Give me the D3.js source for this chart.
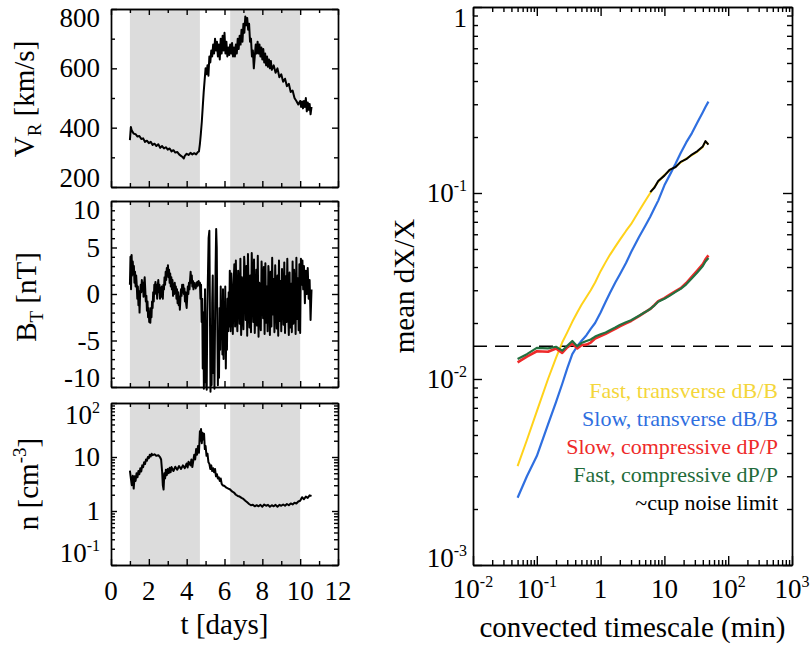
<!DOCTYPE html>
<html><head><meta charset="utf-8">
<script src="https://cdn.jsdelivr.net/npm/d3@7"></script>
<style>body{margin:0;background:#fff} svg{display:block} text{font-family:"Liberation Serif","Times New Roman",serif;fill:#000}</style>
</head><body><svg id="c" width="812" height="645"></svg>
<script>
// ---------------- DATA ----------------
const shadeStart = [1.0, 6.3];
const shadeEnd = [4.7, 10.0];

// V_R [km/s]
const vrDays = [1.00,1.05,1.10,1.15,1.2,1.3,1.4,1.5,1.6,1.7,1.8,1.9,2.0,2.1,2.2,2.3,2.4,2.5,2.6,2.7,2.8,2.9,3.0,3.1,3.2,3.3,3.4,3.5,3.6,3.7,3.8,3.85,3.9,4.0,4.1,4.2,4.3,4.4,4.5,4.6,4.65,4.7,4.75,4.8,4.85,4.9,4.95,5.0,5.05,5.1,5.15,5.2,5.25,5.3,5.35,5.4,5.45,5.5,5.55,5.6,5.65,5.7,5.75,5.8,5.85,5.9,5.95,6.0,6.05,6.1,6.15,6.2,6.25,6.3,6.35,6.4,6.45,6.5,6.55,6.6,6.65,6.7,6.75,6.8,6.85,6.9,6.95,7.0,7.05,7.1,7.15,7.2,7.25,7.3,7.35,7.4,7.45,7.5,7.55,7.6,7.65,7.7,7.75,7.8,7.85,7.9,7.95,8.0,8.05,8.1,8.15,8.2,8.25,8.3,8.35,8.4,8.45,8.5,8.6,8.7,8.8,8.9,9.0,9.1,9.2,9.3,9.4,9.5,9.6,9.7,9.8,9.9,10.0,10.05,10.1,10.15,10.2,10.25,10.3,10.35,10.4,10.45,10.5,10.55,10.6];
const vrVals = [358,402,390,385,380,378,370,372,362,364,352,356,348,352,342,346,338,344,332,338,330,334,326,330,320,324,316,318,310,305,300,296,305,312,308,315,310,314,310,318,320,345,380,420,470,520,560,600,580,610,575,640,620,660,640,680,650,700,660,690,640,680,630,700,650,710,660,720,650,690,640,670,645,680,650,685,640,670,640,680,650,700,665,710,680,730,690,750,720,775,745,770,730,750,690,700,640,660,600,640,680,650,690,650,680,640,670,630,665,620,650,610,640,605,630,600,625,595,610,585,600,570,580,555,565,540,548,520,525,500,490,478,490,470,488,465,490,470,500,455,485,460,480,445,470];

// B_T [nT]
const btDays = [1.00,1.03,1.06,1.09,1.12,1.15,1.18,1.21,1.24,1.27,1.30,1.33,1.36,1.39,1.42,1.45,1.48,1.51,1.54,1.57,1.60,1.63,1.66,1.69,1.72,1.75,1.78,1.81,1.84,1.87,1.90,1.93,1.96,1.99,2.02,2.05,2.08,2.11,2.14,2.17,2.20,2.23,2.26,2.29,2.32,2.35,2.38,2.41,2.44,2.47,2.50,2.53,2.56,2.59,2.62,2.65,2.68,2.71,2.74,2.77,2.80,2.83,2.86,2.89,2.92,2.95,2.98,3.01,3.04,3.07,3.10,3.13,3.16,3.19,3.22,3.25,3.28,3.31,3.34,3.37,3.40,3.43,3.46,3.49,3.52,3.55,3.58,3.61,3.64,3.67,3.70,3.73,3.76,3.79,3.82,3.85,3.88,3.91,3.94,3.97,4.00,4.03,4.06,4.09,4.12,4.15,4.18,4.21,4.24,4.27,4.30,4.33,4.36,4.39,4.42,4.45,4.48,4.51,4.54,4.57,4.60,4.63,4.66,4.70,
4.73,4.76,4.79,4.82,4.85,4.88,4.91,4.94,4.97,5.00,5.03,5.06,5.09,5.12,5.16,5.20,5.23,5.26,5.29,5.32,5.35,5.38,5.41,5.44,5.47,5.50,5.53,5.56,5.59,5.62,5.65,5.68,5.71,5.74,5.77,5.80,5.83,5.86,5.89,5.92,5.95,5.98,6.01,6.04,6.07,6.10,6.13,6.16,6.19,6.22,6.25,6.28,
6.32,6.36,6.40,6.44,6.48,6.52,6.56,6.60,6.64,6.68,6.72,6.76,6.80,6.84,6.88,6.92,6.96,7.00,7.04,7.08,7.12,7.16,7.20,7.24,7.28,7.32,7.36,7.40,7.44,7.48,7.52,7.56,7.60,7.64,7.68,7.72,7.76,7.80,7.84,7.88,7.92,7.96,8.00,8.04,8.08,8.12,8.16,8.20,8.24,8.28,8.32,8.36,8.40,8.44,8.48,8.52,8.56,8.60,8.64,8.68,8.72,8.76,8.80,8.84,8.88,8.92,8.96,9.00,9.04,9.08,9.12,9.16,9.20,9.24,9.28,9.32,9.36,9.40,9.44,9.48,9.52,9.56,9.60,9.64,9.68,9.72,9.76,9.80,9.84,9.88,9.92,9.96,10.00,
10.04,10.08,10.12,10.16,10.20,10.25,10.30,10.35,10.40,10.45,10.50,10.55,10.60];
const btVals = [1.0,4.0,0.5,4.2,2.0,3.5,2.2,3.0,1.2,2.4,0.8,2.0,1.0,-0.5,0.8,-1.2,0.3,-2.0,0.0,1.0,0.2,1.5,0.5,1.2,-0.3,1.0,1.8,0.5,-0.8,-0.2,-1.8,-0.8,-2.5,-1.5,-3.0,-2.0,-3.1,-1.5,-2.5,-0.8,-1.5,0.2,-0.8,1.0,0.0,1.3,0.3,1.0,-0.5,0.8,1.5,0.2,1.0,-0.5,0.6,-0.3,0.8,0.0,-0.5,1.0,0.5,1.8,1.0,2.4,1.5,2.8,2.0,3.1,1.8,2.6,1.2,2.2,0.8,1.8,0.5,1.5,-0.2,1.0,0.0,1.2,0.3,0.8,-0.5,0.5,-1.0,0.2,-1.2,-0.3,-1.7,-0.5,0.5,-0.2,1.0,0.3,1.0,0.0,0.6,-0.8,0.2,-1.0,-1.5,-0.3,0.8,0.0,1.2,0.5,1.5,2.4,1.2,2.0,0.8,1.4,0.5,1.2,0.8,1.0,0.6,1.2,0.8,1.3,1.0,1.4,0.9,1.2,
-0.5,1.0,-3.0,-0.5,-8.0,-2.0,-10.2,-4.0,0.5,-9.5,-3.0,-10.3,-2.0,1.5,6.0,6.8,-2.0,-10.5,-6.0,-9.8,-1.0,2.0,-8.5,-4.0,-10.2,-3.0,3.0,7.0,5.0,-3.0,-9.8,-4.0,-9.0,-1.5,-6.0,0.8,-4.7,-1.0,-6.5,0.5,-7.0,-2.0,-5.0,0.8,-8.0,-2.5,-6.0,-0.5,-4.0,0.2,-3.5,2.5,
-4.0,2.2,-1.0,-4.3,1.0,3.2,-3.5,3.6,-2.0,-4.0,2.5,0.5,-3.2,3.8,-4.4,1.8,-1.5,-3.8,4.0,2.0,-2.8,3.0,-4.5,4.3,-0.5,-3.6,2.0,-4.1,4.4,1.0,-3.0,3.7,-4.2,-1.0,2.6,-3.4,4.1,-4.6,1.2,-2.0,-3.9,3.5,0.5,-2.6,2.9,-4.3,3.3,-3.1,0.8,-4.0,3.0,1.5,-4.4,2.4,-3.5,3.9,-2.2,1.6,-4.1,3.1,-0.8,-3.7,2.0,-4.5,3.6,-2.9,1.4,-4.0,2.7,0.0,-3.3,3.4,-4.2,1.9,-3.0,3.8,-1.5,-4.4,2.3,-3.6,1.1,-4.1,3.5,-3.2,2.6,-0.5,-4.3,3.9,-2.7,1.7,-3.9,3.2,-4.2,
3.8,1.0,3.6,0.5,3.0,-1.0,2.5,0.0,2.8,-0.5,1.5,-2.8,0.5];

// n [cm^-3]
const nDays = [1.00,1.05,1.10,1.15,1.20,1.25,1.30,1.35,1.40,1.45,1.50,1.55,1.60,1.65,1.70,1.75,1.80,1.85,1.90,1.95,2.00,2.05,2.10,2.15,2.20,2.30,2.40,2.50,2.60,2.65,2.70,2.74,2.78,2.82,2.86,2.90,2.95,3.00,3.05,3.10,3.15,3.20,3.30,3.40,3.50,3.60,3.70,3.80,3.90,4.00,4.05,4.10,4.20,4.25,4.30,4.35,4.40,4.45,4.50,4.55,4.60,4.65,4.70,4.73,4.76,4.80,4.84,4.88,4.92,4.96,5.00,5.05,5.10,5.15,5.20,5.25,5.30,5.35,5.40,5.45,5.50,5.55,5.60,5.65,5.70,5.75,5.80,5.85,5.90,6.00,6.10,6.20,6.30,6.40,6.50,6.60,6.70,6.80,6.90,7.00,7.10,7.20,7.30,7.40,7.50,7.60,7.70,7.80,7.90,8.00,8.10,8.20,8.30,8.40,8.50,8.60,8.70,8.80,8.90,9.00,9.10,9.20,9.30,9.40,9.50,9.60,9.70,9.80,9.90,10.00,10.10,10.20,10.30,10.40,10.50,10.60];
const nVals = [5.6,4.0,3.0,4.5,2.6,4.4,3.6,5.0,4.2,5.5,4.8,6.2,5.4,7.0,6.5,8.0,7.4,9.0,8.5,10.0,9.5,11.0,10.2,11.5,10.8,11.2,10.5,10.8,9.8,9.0,5.5,3.0,2.5,5.0,4.0,5.8,4.6,6.0,5.0,6.3,5.2,6.5,5.5,6.6,5.8,6.8,6.0,7.0,6.2,7.6,6.4,8.2,7.0,9.0,6.5,8.5,11.0,9.0,14.0,11.0,16.0,12.0,30.0,20.0,33.0,18.0,28.0,21.0,27.0,14.0,16.0,10.5,11.5,8.0,7.5,6.0,7.0,5.5,6.2,5.2,6.0,4.4,4.8,4.0,4.2,3.6,4.0,3.2,3.0,2.9,2.7,2.6,2.5,2.3,2.2,2.0,1.9,1.85,1.75,1.67,1.55,1.45,1.35,1.28,1.3,1.22,1.28,1.22,1.3,1.2,1.32,1.25,1.3,1.2,1.28,1.22,1.3,1.2,1.3,1.25,1.32,1.25,1.35,1.28,1.38,1.32,1.42,1.38,1.5,1.55,1.8,1.65,1.85,1.75,1.95,1.9];

// Right panel: convected timescale (min) and mean dX/X
const tau = [0.05,0.07,0.1,0.15,0.2,0.25,0.3,0.36,0.43,0.5,0.6,0.7,0.82,1.0,1.2,1.4,1.7,2.0,2.5,3,4,5,6,7,8,10,12,15,18,22,27,33,40,44,49];
const fastTransverse = [0.0034,0.0047,0.0067,0.0100,0.0130,0.0157,0.0178,0.0203,0.0228,0.0250,0.0276,0.0300,0.0330,0.0380,0.0425,0.0465,0.0515,0.0560,0.0625,0.0680,0.0800,0.0905,0.100,0.108,0.115,0.125,0.132,0.139,0.146,0.153,0.160,0.167,0.177,0.189,0.183];
const fastTransverseTail = [null,null,null,null,null,null,null,null,null,null,null,null,null,null,null,null,null,null,null,null,null,null,0.101,0.107,0.116,0.124,0.133,0.138,0.147,0.152,0.161,0.168,0.178,0.190,0.182];
const slowTransverse = [0.00230,0.00300,0.00385,0.0057,0.0075,0.0094,0.0114,0.0136,0.0150,0.0160,0.0172,0.0186,0.0200,0.0228,0.0260,0.0290,0.0330,0.0365,0.0420,0.0480,0.0580,0.0665,0.0745,0.0830,0.0910,0.110,0.124,0.144,0.164,0.187,0.210,0.240,0.272,0.290,0.310];
const slowCompressive = [0.0123,0.0132,0.0141,0.0140,0.0146,0.0138,0.0148,0.0155,0.0146,0.0152,0.0153,0.0157,0.0165,0.0170,0.0175,0.0180,0.0186,0.0192,0.0199,0.0205,0.0218,0.0229,0.0238,0.0250,0.0262,0.0272,0.0283,0.0297,0.0308,0.0328,0.0355,0.0384,0.0415,0.0440,0.0462];
const fastCompressive = [0.0128,0.0136,0.0147,0.0146,0.0149,0.0142,0.0151,0.0160,0.0150,0.0156,0.0160,0.0163,0.0169,0.0174,0.0178,0.0183,0.0189,0.0195,0.0202,0.0207,0.0219,0.0229,0.0238,0.0249,0.0260,0.0270,0.0280,0.0294,0.0305,0.0323,0.0348,0.0375,0.0405,0.0428,0.0447];
const cupNoiseLimit = 0.015;

const legendLabels = ["Fast, transverse dB/B","Slow, transverse dB/B","Slow, compressive dP/P","Fast, compressive dP/P","~cup noise limit"];
const legendColors = ["#f4d63a","#2f6fe0","#ee2a2a","#1f6b3a","#000000"];
const lineColors = {fastT:"#ffd21a", slowT:"#2f6fe0", slowC:"#ee2a2a", fastC:"#23703f"};

// ---------------- DRAW ----------------
const svg = d3.select("#c");
const FS = 27;

function styleAxis(g){ g.selectAll("path,line").attr("stroke","#000").attr("stroke-width",1.4); g.selectAll("text").remove(); }

function frame(x, y, xMaj, xMin, yMaj, yMin, LM, Lm){
  const [x0,x1] = x.range(); const yr = y.range(); const yb = Math.max(...yr), yt = Math.min(...yr);
  const defs = [
    [d3.axisBottom, yb, xMaj, LM, x, true],[d3.axisBottom, yb, xMin, Lm, x, true],
    [d3.axisTop, yt, xMaj, LM, x, true],[d3.axisTop, yt, xMin, Lm, x, true],
    [d3.axisLeft, x0, yMaj, LM, y, false],[d3.axisLeft, x0, yMin, Lm, y, false],
    [d3.axisRight, x1, yMaj, LM, y, false],[d3.axisRight, x1, yMin, Lm, y, false]];
  defs.forEach(([ax,pos,vals,len,sc,horiz])=>{
    const g = svg.append("g").attr("transform", horiz?`translate(0,${pos})`:`translate(${pos},0)`)
      .call(ax(sc).tickValues(vals).tickSize(-len).tickSizeOuter(0).tickFormat(""));
    styleAxis(g);
  });
}

function powLabel(v){
  const e = Math.round(Math.log10(v));
  if (e===0) return {base:"1"}; if (e===1) return {base:"10"};
  return {base:"10", exp:String(e)};
}
function addLabel(x, y, anchor, lab){
  const t = svg.append("text").attr("x",x).attr("y",y).attr("text-anchor",anchor).attr("font-size",FS);
  t.append("tspan").text(lab.base);
  if (lab.exp) t.append("tspan").attr("font-size",16).attr("dy",-11).text(lab.exp);
  return t;
}
const clamp = (v,a,b)=>Math.max(a,Math.min(b,v));

// Left panels
const xT = d3.scaleLinear().domain([0,12]).range([111,338]);
const panels = [
  {y:d3.scaleLinear().domain([200,800]).range([187,9]), days:vrDays, vals:vrVals,
   maj:[200,400,600,800], min:[300,500,700], labels:[200,400,600,800].map(v=>({v,lab:{base:String(v)}})), m:9},
  {y:d3.scaleLinear().domain([-10,10]).range([387,201]), days:btDays, vals:btVals,
   maj:[-10,-5,0,5,10], min:d3.range(-9,10,1).filter(v=>v%5!==0), labels:[-10,-5,0,5,10].map(v=>({v,lab:{base:String(v)}})), m:9},
  {y:d3.scaleLog().domain([0.1,100]).range([565,403]), days:nDays, vals:nVals,
   maj:[0.1,1,10,100], min:[0.2,0.3,0.4,0.5,0.6,0.7,0.8,0.9,2,3,4,5,6,7,8,9,20,30,40,50,60,70,80,90], labels:[0.1,1,10,100].map(v=>({v,lab:powLabel(v)})), m:12}
];
panels.forEach(p=>{
  const [yb,yt] = p.y.range();
  for (let i=0;i<shadeStart.length;i++){
    svg.append("rect").attr("x",xT(shadeStart[i])).attr("width",xT(shadeEnd[i])-xT(shadeStart[i]))
      .attr("y",yt).attr("height",yb-yt).attr("fill","#dcdcdc");
  }
  const pts = p.days.map((d,i)=>[d,p.vals[i]]);
  svg.append("path").datum(pts).attr("fill","none").attr("stroke","#000").attr("stroke-width",2)
    .attr("stroke-linejoin","round")
    .attr("d", d3.line().x(d=>xT(d[0])).y(d=>p.y(d[1])));
  frame(xT, p.y, d3.range(0,13,2), d3.range(1,12,2), p.maj, p.min, 6, 4);
  p.labels.forEach(l=>{
    const yy = clamp(p.y(l.v), yt+p.m, yb-p.m);
    addLabel(100, yy+9, "end", l.lab);
  });
});
// left x tick labels
d3.range(0,13,2).forEach(d=>{
  svg.append("text").attr("x",xT(d)).attr("y",600).attr("text-anchor","middle").attr("font-size",FS).text(d);
});
svg.append("text").attr("x",(111+338)/2).attr("y",634).attr("text-anchor","middle").attr("font-size",29).text("t [days]");

// left axis titles
function rotTitle(x, y, parts){
  const t = svg.append("text").attr("transform",`translate(${x},${y}) rotate(-90)`).attr("text-anchor","middle").attr("font-size",29);
  parts.forEach(p=>{
    const s = t.append("tspan").text(p.t);
    if (p.sub) s.attr("font-size",19).attr("dy",7);
    if (p.sup) s.attr("font-size",19).attr("dy",-12);
    if (p.back) s.attr("dy",p.back);
  });
}
rotTitle(34, 99, [{t:"V"},{t:"R",sub:true},{t:" [km/s]",back:-7}]);
rotTitle(36, 297, [{t:"B"},{t:"T",sub:true},{t:" [nT]",back:-7}]);
rotTitle(38, 484, [{t:"n [cm"},{t:"-3",sup:true},{t:"]",back:12}]);

// Right panel
const xR = d3.scaleLog().domain([0.01,1000]).range([473,792]);
const yR = d3.scaleLog().domain([0.001,1]).range([565,7]);
const decX = [0.01,0.1,1,10,100,1000];
const minX = []; decX.slice(0,-1).forEach(d=>{ for(let k=2;k<10;k++) minX.push(d*k); });
const decY = [0.001,0.01,0.1,1];
const minY = []; decY.slice(0,-1).forEach(d=>{ for(let k=2;k<10;k++) minY.push(d*k); });

// dashed noise limit
svg.append("line").attr("x1",xR(0.01)).attr("x2",xR(1000)).attr("y1",yR(cupNoiseLimit)).attr("y2",yR(cupNoiseLimit))
  .attr("stroke","#000").attr("stroke-width",1.5).attr("stroke-dasharray","14,8");

const lineR = d3.line().defined(d=>d[1]!=null).x(d=>xR(d[0])).y(d=>yR(d[1]));
function curve(vals, color, w){
  svg.append("path").datum(tau.map((t,i)=>[t,vals[i]])).attr("fill","none").attr("stroke",color)
    .attr("stroke-width",w).attr("stroke-linejoin","round").attr("d",lineR);
}
curve(fastTransverse, lineColors.fastT, 2);
curve(slowTransverse, lineColors.slowT, 2.2);
curve(slowCompressive, lineColors.slowC, 2.6);
curve(fastCompressive, lineColors.fastC, 2.2);
curve(fastTransverseTail, "#000", 2);

frame(xR, yR, decX, minX, decY, minY, 9, 5);

decY.forEach(v=>{
  const yy = clamp(yR(v), 7+11, 565-7);
  addLabel(467, yy+9, "end", powLabel(v));
});
decX.forEach(v=>{ addLabel(xR(v), 598, "middle", powLabel(v)); });
svg.append("text").attr("x",(473+792)/2).attr("y",637).attr("text-anchor","middle").attr("font-size",29).text("convected timescale (min)");
svg.append("text").attr("transform",`translate(414,286) rotate(-90)`).attr("text-anchor","middle").attr("font-size",29).text("mean dX/X");

// legend
const legBase = [398,426,454,482,510];
legendLabels.forEach((l,i)=>{
  svg.append("text").attr("x",778).attr("y",legBase[i]).attr("text-anchor","end").attr("font-size",22)
    .style("fill",legendColors[i]).text(l);
});
</script></body></html>
